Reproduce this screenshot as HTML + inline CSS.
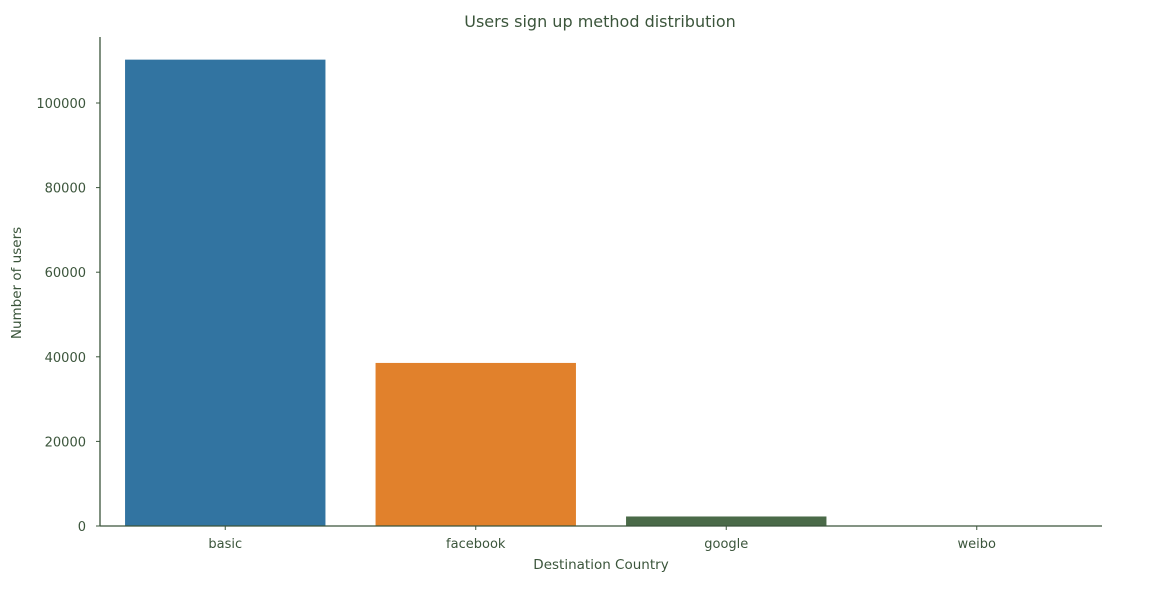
<!DOCTYPE html>
<html><head><meta charset="utf-8"><style>
body{margin:0;background:#fff}
svg text{font-family:"DejaVu Sans","Liberation Sans",sans-serif;fill:#3b553b}
</style></head><body>
<svg id="chart" width="1162" height="586" xmlns="http://www.w3.org/2000/svg">
<text x="600" y="27" text-anchor="middle" font-size="16">Users sign up method distribution</text>
<text x="601" y="569" text-anchor="middle" font-size="13.5">Destination Country</text>
<text transform="translate(21,283) rotate(-90)" text-anchor="middle" font-size="13.5">Number of users</text>
<g id="bars"></g><g id="axes"></g>
</svg>
<script>
const categories=["basic","facebook","google","weibo"];
const values=[110250,38550,2250,40];
const colors=["#3274a1","#e1812c","#4a6a48","#c03d3e"];
const yTicks=[0,20000,40000,60000,80000,100000];
const NS="http://www.w3.org/2000/svg";
const x0=100,x1=1102,yBase=526,pxPer=(526-103)/100000;
const band=(x1-x0)/categories.length;
function xScale(i){return x0+band*i+band/2;}
function yScale(v){return yBase-v*pxPer;}
const bars=document.getElementById('bars'),axes=document.getElementById('axes');
function mk(t,a,p){const e=document.createElementNS(NS,t);for(const k in a)e.setAttribute(k,a[k]);p.appendChild(e);return e;}
categories.forEach((c,i)=>{
 const w=band*0.8;
 const r=mk('rect',{x:xScale(i)-w/2,y:yScale(values[i]),width:w,height:yBase-yScale(values[i]),fill:colors[i]},bars);
 
 
 const tk=mk('line',{x1:xScale(i),x2:xScale(i),y1:yBase,y2:yBase+4,stroke:'#3b553b','stroke-width':1},axes);
 
 
 const t=mk('text',{x:xScale(i),y:yBase+22,'text-anchor':'middle','font-size':13},axes);
 t.textContent=c;
 
 
});
yTicks.forEach(v=>{
 const tk=mk('line',{x1:x0-4,x2:x0,y1:yScale(v),y2:yScale(v),stroke:'#3b553b','stroke-width':1},axes);
 
 
 const t=mk('text',{x:x0-14,y:yScale(v)+5,'text-anchor':'end','font-size':13},axes);
 t.textContent=v;
 
 
});
const ys=mk('line',{x1:x0,x2:x0,y1:37,y2:yBase+0.5,stroke:'#3b553b','stroke-width':1.3},axes);


const xs=mk('line',{x1:x0,x2:x1,y1:yBase,y2:yBase,stroke:'#3b553b','stroke-width':1.3},axes);


</script>
</body></html>
